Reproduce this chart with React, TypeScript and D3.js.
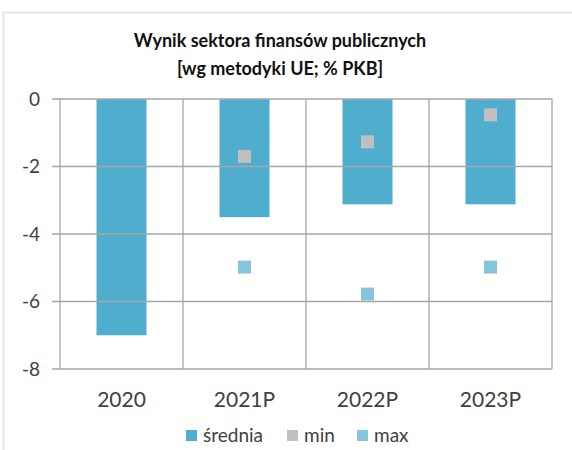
import React from "react";
import * as d3 from "d3";

const categories = ["2020", "2021P", "2022P", "2023P"];
const avgValues = [-7.0, -3.5, -3.12, -3.12];
const minValues: (number | null)[] = [null, -1.7, -1.27, -0.47];
const maxValues: (number | null)[] = [null, -4.98, -5.78, -4.98];
const yTicks = [0, -2, -4, -6, -8];
const legendLabels = ["średnia", "min", "max"];

const width = 572;
const height = 450;
const plot = { left: 60, right: 552, top: 99, bottom: 369 };

const colAvg = "#4fadcd";
const colMin = "#c0c0c0";
const colMax = "#85c6dc";
const gridColor = "#a6a6a6";
const textColor = "#404040";
const font = "Lato, 'Open Sans', sans-serif";

const x = d3
  .scaleBand<string>()
  .domain(categories)
  .range([plot.left, plot.right])
  .paddingInner(0)
  .paddingOuter(0);

const y = d3.scaleLinear().domain([0, -8]).range([plot.top, plot.bottom]);

const barWidth = 50;
const marker = 13;

const App = () => {
  const bw = x.bandwidth();
  return (
    <svg
      width={width}
      height={height}
      style={{ position: "absolute", left: 0, top: 0, background: "#fff" }}
      fontFamily={font}
    >
      {/* outer frame */}
      <line x1={3} x2={width} y1={12.5} y2={12.5} stroke="#e6e6e6" strokeWidth={2} />
      <line x1={3.5} x2={3.5} y1={12} y2={height} stroke="#e6e6e6" strokeWidth={2} />

      <text x={280} y={47} textAnchor="middle" fontSize={18} fontWeight="bold" fill="#111">
        Wynik sektora finansów publicznych
      </text>
      <text x={280} y={75} textAnchor="middle" fontSize={18} fontWeight="bold" fill="#111">
        [wg metodyki UE; % PKB]
      </text>

      {/* bars */}
      {categories.map((c, i) => (
        <rect
          key={c}
          x={(x(c) ?? 0) + bw / 2 - barWidth / 2}
          y={y(0)}
          width={barWidth}
          height={y(avgValues[i]) - y(0)}
          fill={colAvg}
        />
      ))}

      {/* grid */}
      {yTicks.map((t) => (
        <g key={t}>
          <line x1={plot.left - 8} x2={plot.right} y1={y(t)} y2={y(t)} stroke={gridColor} strokeWidth={1.3} />
          <text x={40} y={y(t)} dy="0.35em" textAnchor="end" fontSize={19} fill={textColor}>
            {t}
          </text>
        </g>
      ))}
      {categories.map((c) => (
        <line
          key={c}
          x1={x(c)}
          x2={x(c)}
          y1={plot.top}
          y2={plot.bottom}
          stroke={gridColor}
          strokeWidth={1.3}
        />
      ))}
      <line x1={plot.right} x2={plot.right} y1={plot.top} y2={plot.bottom} stroke={gridColor} strokeWidth={1.3} />

      {/* markers */}
      {categories.map((c, i) => {
        const cx = (x(c) ?? 0) + bw / 2;
        return (
          <g key={c}>
            {minValues[i] !== null && (
              <rect x={cx - marker / 2} y={y(minValues[i] as number) - marker / 2} width={marker} height={marker} fill={colMin} />
            )}
            {maxValues[i] !== null && (
              <rect x={cx - marker / 2} y={y(maxValues[i] as number) - marker / 2} width={marker} height={marker} fill={colMax} />
            )}
          </g>
        );
      })}

      {categories.map((c) => (
        <text
          key={c}
          x={(x(c) ?? 0) + bw / 2}
          y={407}
          textAnchor="middle"
          fontSize={21}
          fill={textColor}
        >
          {c}
        </text>
      ))}

      {/* legend */}
      {[
        { label: legendLabels[0], color: colAvg, x: 186 },
        { label: legendLabels[1], color: colMin, x: 287 },
        { label: legendLabels[2], color: colMax, x: 357 },
      ].map((l) => (
        <g key={l.label}>
          <rect x={l.x} y={430} width={11} height={11} fill={l.color} />
          <text x={l.x + 17} y={442} fontSize={19} fill={textColor}>
            {l.label}
          </text>
        </g>
      ))}
    </svg>
  );
};

export default App;
